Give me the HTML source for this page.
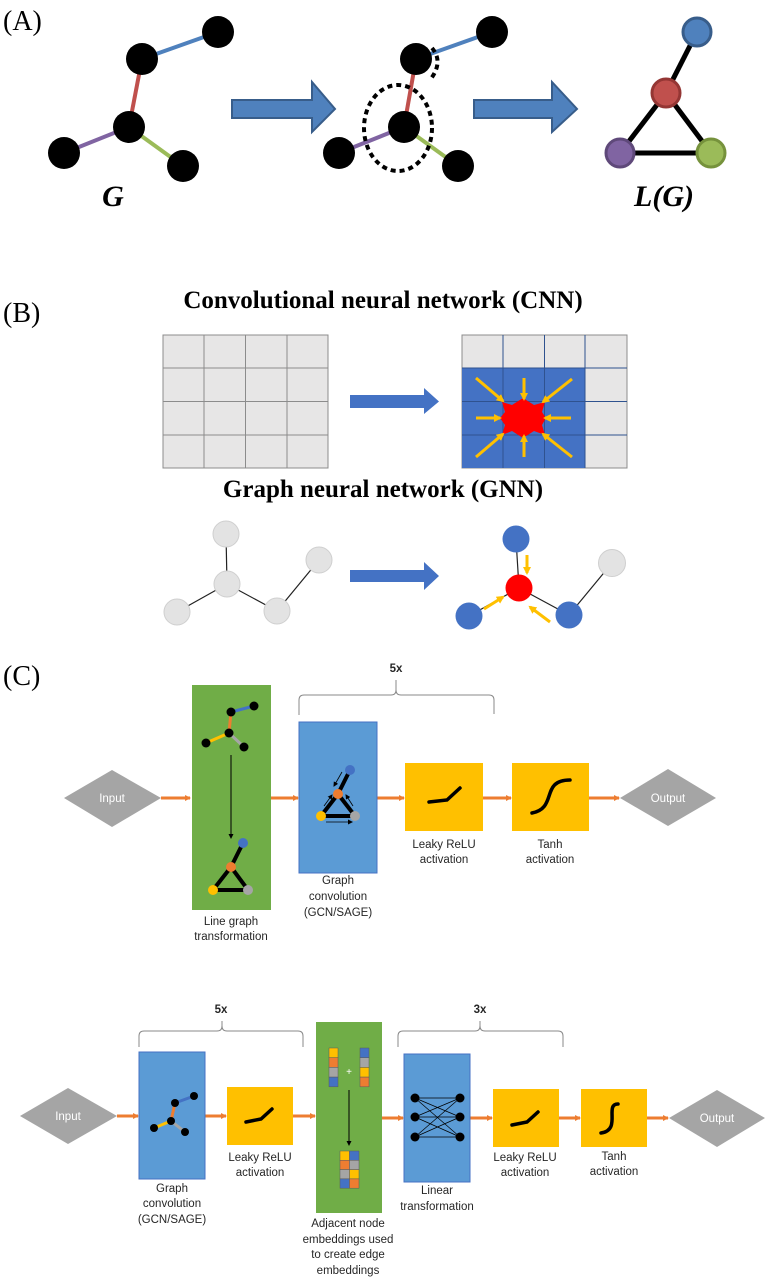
<!DOCTYPE html>
<html><head><meta charset="utf-8"><style>
html,body{margin:0;padding:0;background:#fff;}
svg{display:block;}
.lbl{font-family:"Liberation Sans",sans-serif;font-size:11.5px;fill:#262626;text-anchor:middle;}
.ser{font-family:"Liberation Serif",serif;}
</style></head><body>
<svg width="767" height="1281" viewBox="0 0 767 1281" xmlns="http://www.w3.org/2000/svg">
<defs>
<marker id="oa" markerWidth="6" markerHeight="6" refX="5" refY="3" orient="auto" markerUnits="userSpaceOnUse"><path d="M0,0 L6,3 L0,6z" fill="#ed7d31"/></marker>
<marker id="ba" markerWidth="6" markerHeight="6" refX="5" refY="3" orient="auto" markerUnits="userSpaceOnUse"><path d="M0,0 L6,3 L0,6z" fill="#000"/></marker>
<marker id="ya" markerWidth="8" markerHeight="8" refX="6" refY="4" orient="auto" markerUnits="userSpaceOnUse"><path d="M0,0 L8,4 L0,8z" fill="#ffc000"/></marker>
<marker id="ka" markerWidth="5" markerHeight="5" refX="4" refY="2.5" orient="auto" markerUnits="userSpaceOnUse"><path d="M0,0 L5,2.5 L0,5z" fill="#000"/></marker>
</defs>

<!-- (A) -->
<text x="3" y="30" class="ser" font-size="28">(A)</text>
<g stroke-width="4">
<line x1="142" y1="59" x2="218" y2="32" stroke="#4f81bd"/>
<line x1="142" y1="59" x2="129" y2="127" stroke="#c0504d"/>
<line x1="129" y1="127" x2="64" y2="153" stroke="#8064a2"/>
<line x1="129" y1="127" x2="183" y2="166" stroke="#9bbb59"/>
</g>
<g fill="#000">
<circle cx="218" cy="32" r="16"/><circle cx="142" cy="59" r="16"/><circle cx="129" cy="127" r="16"/><circle cx="64" cy="153" r="16"/><circle cx="183" cy="166" r="16"/>
</g>
<text x="113" y="206" class="ser" font-size="30" font-weight="bold" font-style="italic" text-anchor="middle">G</text>
<path d="M232,100 H312 V82 L335,109 L312,132 V118 H232z" fill="#4f81bd" stroke="#385d8a" stroke-width="2"/>

<g stroke-width="4">
<line x1="416" y1="59" x2="492" y2="32" stroke="#4f81bd"/>
<line x1="416" y1="59" x2="404" y2="127" stroke="#c0504d"/>
<line x1="404" y1="127" x2="339" y2="153" stroke="#8064a2"/>
<line x1="404" y1="127" x2="458" y2="166" stroke="#9bbb59"/>
</g>
<g fill="#000">
<circle cx="492" cy="32" r="16"/><circle cx="416" cy="59" r="16"/><circle cx="404" cy="127" r="16"/><circle cx="339" cy="153" r="16"/><circle cx="458" cy="166" r="16"/>
</g>
<ellipse cx="398" cy="128" rx="34" ry="43" fill="none" stroke="#000" stroke-width="4" stroke-dasharray="5 4"/>
<path d="M432,48 Q444,62 430,80" fill="none" stroke="#000" stroke-width="4" stroke-dasharray="5 4"/>
<path d="M474,100 H552 V82 L577,109 L552,132 V118 H474z" fill="#4f81bd" stroke="#385d8a" stroke-width="2"/>

<g stroke="#000" stroke-width="5">
<line x1="697" y1="32" x2="666" y2="93"/><line x1="666" y1="93" x2="620" y2="153"/><line x1="666" y1="93" x2="711" y2="153"/><line x1="620" y1="153" x2="711" y2="153"/>
</g>
<circle cx="697" cy="32" r="14" fill="#4f81bd" stroke="#385d8a" stroke-width="3"/>
<circle cx="666" cy="93" r="14" fill="#c0504d" stroke="#943634" stroke-width="3"/>
<circle cx="620" cy="153" r="14" fill="#8064a2" stroke="#5f497a" stroke-width="3"/>
<circle cx="711" cy="153" r="14" fill="#9bbb59" stroke="#76923c" stroke-width="3"/>
<text x="664" y="206" class="ser" font-size="30" font-weight="bold" font-style="italic" text-anchor="middle">L(G)</text>

<!-- (B) -->
<text x="3" y="322" class="ser" font-size="28">(B)</text>
<text x="383" y="308" class="ser" font-size="25" font-weight="bold" text-anchor="middle">Convolutional neural network (CNN)</text>
<g stroke="#8c8c8c" stroke-width="1">
<rect x="163" y="335" width="165" height="133" fill="#e7e6e6"/>
<line x1="204" y1="335" x2="204" y2="468"/><line x1="245.5" y1="335" x2="245.5" y2="468"/><line x1="287" y1="335" x2="287" y2="468"/>
<line x1="163" y1="368" x2="328" y2="368"/><line x1="163" y1="401.5" x2="328" y2="401.5"/><line x1="163" y1="435" x2="328" y2="435"/>
</g>
<path d="M350,395 H424 V388 L439,401.5 L424,414 V408 H350z" fill="#4472c4"/>
<rect x="462" y="335" width="165" height="133" fill="#e7e6e6" stroke="#8c8c8c"/>
<rect x="462" y="368" width="123" height="100" fill="#4472c4"/>
<g stroke="#2f528f" stroke-width="1">
<line x1="503" y1="335" x2="503" y2="468"/><line x1="544.5" y1="335" x2="544.5" y2="468"/><line x1="585" y1="335" x2="585" y2="468"/>
<line x1="462" y1="368" x2="627" y2="368"/><line x1="462" y1="401.5" x2="627" y2="401.5"/><line x1="462" y1="435" x2="627" y2="435"/>
</g>
<polygon points="502,402 512,405 523,398 534,405 545,402 542,412 546,418 542,425 545,435 534,431 523,438 512,431 502,435 505,425 500,418 505,412" fill="#ff0000"/>
<g stroke="#ffc000" stroke-width="3" marker-end="url(#ya)">
<line x1="476" y1="378" x2="503" y2="401"/><line x1="524" y1="378" x2="524" y2="399"/><line x1="572" y1="379" x2="543" y2="402"/>
<line x1="476" y1="418" x2="500" y2="418"/><line x1="571" y1="418" x2="545" y2="418"/>
<line x1="476" y1="457" x2="503" y2="434"/><line x1="524" y1="457" x2="524" y2="436"/><line x1="572" y1="457" x2="543" y2="434"/>
</g>

<text x="383" y="497" class="ser" font-size="25" font-weight="bold" text-anchor="middle">Graph neural network (GNN)</text>
<g stroke="#222" stroke-width="1.2">
<line x1="226" y1="534" x2="227" y2="584"/><line x1="227" y1="584" x2="177" y2="612"/><line x1="227" y1="584" x2="277" y2="611"/><line x1="277" y1="611" x2="319" y2="560"/>
</g>
<g fill="#e3e3e3" stroke="#cfcfcf">
<circle cx="226" cy="534" r="13"/><circle cx="227" cy="584" r="13"/><circle cx="177" cy="612" r="13"/><circle cx="277" cy="611" r="13"/><circle cx="319" cy="560" r="13"/>
</g>
<path d="M350,570 H424 V562 L439,576 L424,590 V582 H350z" fill="#4472c4"/>
<g stroke="#222" stroke-width="1.2">
<line x1="516" y1="539" x2="519" y2="588"/><line x1="519" y1="588" x2="469" y2="616"/><line x1="519" y1="588" x2="569" y2="615"/><line x1="569" y1="615" x2="612" y2="563"/>
</g>
<circle cx="516" cy="539" r="13.5" fill="#4472c4"/>
<circle cx="519" cy="588" r="13.5" fill="#ff0000"/>
<circle cx="469" cy="616" r="13.5" fill="#4472c4"/>
<circle cx="569" cy="615" r="13.5" fill="#4472c4"/>
<circle cx="612" cy="563" r="13.5" fill="#e3e3e3" stroke="#cfcfcf"/>
<g stroke="#ffc000" stroke-width="3" marker-end="url(#ya)">
<line x1="527" y1="555" x2="527" y2="573"/><line x1="484" y1="609" x2="503" y2="597"/><line x1="550" y1="622" x2="530" y2="607"/>
</g>

<!-- (C) -->
<text x="3" y="685" class="ser" font-size="28">(C)</text>
<!-- top row -->
<polygon points="64,798 112,770 161,798 112,827" fill="#a5a5a5"/>
<text x="112" y="802" class="lbl" style="fill:#fff">Input</text>
<g stroke="#ed7d31" stroke-width="3" marker-end="url(#oa)">
<line x1="161" y1="798" x2="190" y2="798"/><line x1="271" y1="798" x2="298" y2="798"/><line x1="377" y1="798" x2="404" y2="798"/><line x1="483" y1="798" x2="511" y2="798"/><line x1="589" y1="798" x2="619" y2="798"/>
</g>
<rect x="192" y="685" width="79" height="225" fill="#70ad47"/>
<g stroke-width="3">
<line x1="254" y1="706" x2="231" y2="712" stroke="#4472c4"/><line x1="231" y1="712" x2="229" y2="733" stroke="#ed7d31"/><line x1="229" y1="733" x2="206" y2="743" stroke="#ffc000"/><line x1="229" y1="733" x2="244" y2="747" stroke="#a5a5a5"/>
</g>
<g fill="#000"><circle cx="254" cy="706" r="4.5"/><circle cx="231" cy="712" r="4.5"/><circle cx="229" cy="733" r="4.5"/><circle cx="206" cy="743" r="4.5"/><circle cx="244" cy="747" r="4.5"/></g>
<line x1="231" y1="755" x2="231" y2="838" stroke="#000" stroke-width="1" marker-end="url(#ka)"/>
<g stroke="#000" stroke-width="4"><line x1="243" y1="843" x2="231" y2="867"/><line x1="231" y1="867" x2="213" y2="890"/><line x1="231" y1="867" x2="248" y2="890"/><line x1="213" y1="890" x2="248" y2="890"/></g>
<circle cx="243" cy="843" r="5" fill="#4472c4"/><circle cx="231" cy="867" r="5" fill="#ed7d31"/><circle cx="213" cy="890" r="5" fill="#ffc000"/><circle cx="248" cy="890" r="5" fill="#a5a5a5"/>
<text x="231" y="925" class="lbl">Line graph</text><text x="231" y="940" class="lbl">transformation</text>

<rect x="299" y="722" width="78" height="151" fill="#5b9bd5" stroke="#4472c4"/>
<g stroke="#000" stroke-width="4"><line x1="350" y1="770" x2="338" y2="794"/><line x1="338" y1="794" x2="321" y2="816"/><line x1="338" y1="794" x2="355" y2="816"/><line x1="321" y1="816" x2="355" y2="816"/></g>
<g stroke="#000" stroke-width="0.8" marker-end="url(#ka)"><line x1="342" y1="772" x2="334" y2="786"/><line x1="324" y1="806" x2="332" y2="795"/><line x1="353" y1="806" x2="346" y2="795"/><line x1="326" y1="822" x2="352" y2="822"/></g>
<circle cx="350" cy="770" r="5" fill="#4472c4"/><circle cx="338" cy="794" r="5" fill="#ed7d31"/><circle cx="321" cy="816" r="5" fill="#ffc000"/><circle cx="355" cy="816" r="5" fill="#a5a5a5"/>
<text x="338" y="884" class="lbl">Graph</text><text x="338" y="900" class="lbl">convolution</text><text x="338" y="916" class="lbl">(GCN/SAGE)</text>
<path d="M299,715 V700 Q299,695 304,695 H391 Q396,695 396,690 V680 M396,680 V690 Q396,695 401,695 H489 Q494,695 494,700 V714" fill="none" stroke="#888" stroke-width="1"/>
<text x="396" y="672" class="lbl" font-weight="bold">5x</text>

<rect x="405" y="763" width="78" height="68" fill="#ffc000"/>
<polyline points="429,802 447,800 460,788" fill="none" stroke="#000" stroke-width="3.5" stroke-linecap="round"/>
<text x="444" y="848" class="lbl">Leaky ReLU</text><text x="444" y="863" class="lbl">activation</text>
<rect x="512" y="763" width="77" height="68" fill="#ffc000"/>
<path d="M532,813 C558,808 540,780 570,780" fill="none" stroke="#000" stroke-width="3.5" stroke-linecap="round"/>
<text x="550" y="848" class="lbl">Tanh</text><text x="550" y="863" class="lbl">activation</text>
<polygon points="620,798 668,769 716,798 668,826" fill="#a5a5a5"/>
<text x="668" y="802" class="lbl" style="fill:#fff">Output</text>

<!-- bottom row -->
<polygon points="20,1116 68,1088 117,1116 68,1144" fill="#a5a5a5"/>
<text x="68" y="1120" class="lbl" style="fill:#fff">Input</text>
<g stroke="#ed7d31" stroke-width="3" marker-end="url(#oa)">
<line x1="117" y1="1116" x2="138" y2="1116"/><line x1="205" y1="1116" x2="226" y2="1116"/><line x1="293" y1="1116" x2="315" y2="1116"/><line x1="382" y1="1118" x2="403" y2="1118"/><line x1="470" y1="1118" x2="492" y2="1118"/><line x1="559" y1="1118" x2="580" y2="1118"/><line x1="647" y1="1118" x2="668" y2="1118"/>
</g>
<path d="M139,1047 V1036 Q139,1031 144,1031 H217 Q222,1031 222,1026 V1021 M222,1021 V1026 Q222,1031 227,1031 H298 Q303,1031 303,1036 V1047" fill="none" stroke="#888" stroke-width="1"/>
<text x="221" y="1013" class="lbl" font-weight="bold">5x</text>
<path d="M398,1047 V1036 Q398,1031 403,1031 H475 Q480,1031 480,1026 V1021 M480,1021 V1026 Q480,1031 485,1031 H558 Q563,1031 563,1036 V1047" fill="none" stroke="#888" stroke-width="1"/>
<text x="480" y="1013" class="lbl" font-weight="bold">3x</text>

<rect x="139" y="1052" width="66" height="127" fill="#5b9bd5" stroke="#4472c4"/>
<g stroke-width="3"><line x1="194" y1="1096" x2="175" y2="1103" stroke="#4472c4"/><line x1="175" y1="1103" x2="171" y2="1121" stroke="#ed7d31"/><line x1="171" y1="1121" x2="154" y2="1128" stroke="#ffc000"/><line x1="171" y1="1121" x2="185" y2="1132" stroke="#a5a5a5"/></g>
<g fill="#000"><circle cx="194" cy="1096" r="4"/><circle cx="175" cy="1103" r="4"/><circle cx="171" cy="1121" r="4"/><circle cx="154" cy="1128" r="4"/><circle cx="185" cy="1132" r="4"/></g>
<text x="172" y="1192" class="lbl">Graph</text><text x="172" y="1207" class="lbl">convolution</text><text x="172" y="1223" class="lbl">(GCN/SAGE)</text>

<rect x="227" y="1087" width="66" height="58" fill="#ffc000"/>
<polyline points="246,1122 261,1119 272,1109" fill="none" stroke="#000" stroke-width="3.5" stroke-linecap="round"/>
<text x="260" y="1161" class="lbl">Leaky ReLU</text><text x="260" y="1176" class="lbl">activation</text>

<rect x="316" y="1022" width="66" height="191" fill="#70ad47"/>
<g stroke="#5a5a5a" stroke-width="0.5">
<rect x="329" y="1048" width="9" height="9.7" fill="#ffc000"/><rect x="329" y="1057.7" width="9" height="9.7" fill="#ed7d31"/><rect x="329" y="1067.4" width="9" height="9.7" fill="#a5a5a5"/><rect x="329" y="1077.1" width="9" height="9.7" fill="#4472c4"/>
<rect x="360" y="1048" width="9" height="9.7" fill="#4472c4"/><rect x="360" y="1057.7" width="9" height="9.7" fill="#a5a5a5"/><rect x="360" y="1067.4" width="9" height="9.7" fill="#ffc000"/><rect x="360" y="1077.1" width="9" height="9.7" fill="#ed7d31"/>
<rect x="340" y="1151" width="9.5" height="9.3" fill="#ffc000"/><rect x="340" y="1160.3" width="9.5" height="9.3" fill="#ed7d31"/><rect x="340" y="1169.6" width="9.5" height="9.3" fill="#a5a5a5"/><rect x="340" y="1178.9" width="9.5" height="9.3" fill="#4472c4"/>
<rect x="349.5" y="1151" width="9.5" height="9.3" fill="#4472c4"/><rect x="349.5" y="1160.3" width="9.5" height="9.3" fill="#a5a5a5"/><rect x="349.5" y="1169.6" width="9.5" height="9.3" fill="#ffc000"/><rect x="349.5" y="1178.9" width="9.5" height="9.3" fill="#ed7d31"/>
</g>
<text x="349" y="1075" class="lbl" style="fill:#fff;font-size:10px">+</text>
<line x1="349" y1="1090" x2="349" y2="1145" stroke="#000" stroke-width="1" marker-end="url(#ka)"/>
<text x="348" y="1227" class="lbl">Adjacent node</text><text x="348" y="1243" class="lbl">embeddings used</text><text x="348" y="1258" class="lbl">to create edge</text><text x="348" y="1274" class="lbl">embeddings</text>

<rect x="404" y="1054" width="66" height="128" fill="#5b9bd5" stroke="#4472c4"/>
<g stroke="#000" stroke-width="0.7">
<line x1="415" y1="1098" x2="460" y2="1098"/><line x1="415" y1="1098" x2="460" y2="1117"/><line x1="415" y1="1098" x2="460" y2="1137"/>
<line x1="415" y1="1117" x2="460" y2="1098"/><line x1="415" y1="1117" x2="460" y2="1117"/><line x1="415" y1="1117" x2="460" y2="1137"/>
<line x1="415" y1="1137" x2="460" y2="1098"/><line x1="415" y1="1137" x2="460" y2="1117"/><line x1="415" y1="1137" x2="460" y2="1137"/>
</g>
<g fill="#000"><circle cx="415" cy="1098" r="4.5"/><circle cx="415" cy="1117" r="4.5"/><circle cx="415" cy="1137" r="4.5"/><circle cx="460" cy="1098" r="4.5"/><circle cx="460" cy="1117" r="4.5"/><circle cx="460" cy="1137" r="4.5"/></g>
<text x="437" y="1194" class="lbl">Linear</text><text x="437" y="1210" class="lbl">transformation</text>

<rect x="493" y="1089" width="66" height="58" fill="#ffc000"/>
<polyline points="512,1125 527,1122 538,1112" fill="none" stroke="#000" stroke-width="3.5" stroke-linecap="round"/>
<text x="525" y="1161" class="lbl">Leaky ReLU</text><text x="525" y="1176" class="lbl">activation</text>
<rect x="581" y="1089" width="66" height="58" fill="#ffc000"/>
<path d="M601,1133 C622,1130 604,1104 618,1104" fill="none" stroke="#000" stroke-width="3.5" stroke-linecap="round"/>
<text x="614" y="1160" class="lbl">Tanh</text><text x="614" y="1175" class="lbl">activation</text>
<polygon points="669,1118 717,1090 765,1118 717,1147" fill="#a5a5a5"/>
<text x="717" y="1122" class="lbl" style="fill:#fff">Output</text>
</svg>
</body></html>
